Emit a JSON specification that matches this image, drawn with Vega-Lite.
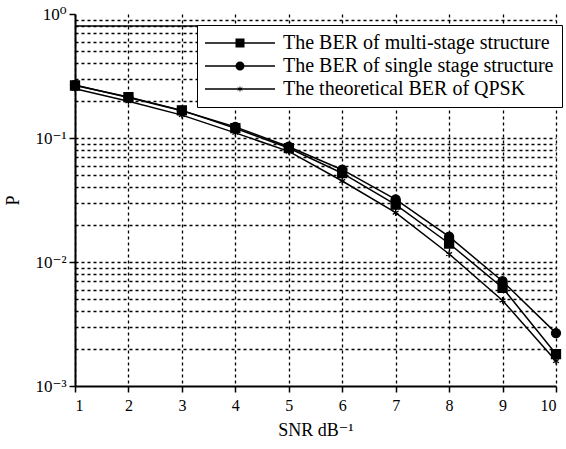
{
  "$schema": "https://vega.github.io/schema/vega-lite/v6.json",
  "width": 481,
  "height": 372,
  "autosize": "none",
  "padding": {"left": 75, "top": 14, "right": 10, "bottom": 63},
  "background": "white",
  "config": {
    "font": "Liberation Serif, Times New Roman, DejaVu Serif, serif",
    "view": {"stroke": null},
    "axis": {
      "domainColor": "black",
      "domainWidth": 2,
      "tickColor": "black",
      "tickWidth": 1.5,
      "tickSize": 6,
      "labelColor": "black",
      "titleColor": "black",
      "labelFont": "Liberation Serif, Times New Roman, DejaVu Serif, serif",
      "titleFont": "Liberation Serif, Times New Roman, DejaVu Serif, serif",
      "titleFontWeight": "normal",
      "gridColor": "black",
      "gridDash": [3, 3],
      "gridWidth": 1.3
    },
    "legend": {
      "labelFont": "Liberation Serif, Times New Roman, DejaVu Serif, serif"
    }
  },
  "datasets": {
    "ber": [
      {"snr": 1, "p": 0.265, "series": "The BER of multi-stage structure"},
      {"snr": 2, "p": 0.214, "series": "The BER of multi-stage structure"},
      {"snr": 3, "p": 0.167, "series": "The BER of multi-stage structure"},
      {"snr": 4, "p": 0.120, "series": "The BER of multi-stage structure"},
      {"snr": 5, "p": 0.083, "series": "The BER of multi-stage structure"},
      {"snr": 6, "p": 0.052, "series": "The BER of multi-stage structure"},
      {"snr": 7, "p": 0.029, "series": "The BER of multi-stage structure"},
      {"snr": 8, "p": 0.0141, "series": "The BER of multi-stage structure"},
      {"snr": 9, "p": 0.0062, "series": "The BER of multi-stage structure"},
      {"snr": 10, "p": 0.00181, "series": "The BER of multi-stage structure"},
      {"snr": 1, "p": 0.268, "series": "The BER of single stage structure"},
      {"snr": 2, "p": 0.212, "series": "The BER of single stage structure"},
      {"snr": 3, "p": 0.166, "series": "The BER of single stage structure"},
      {"snr": 4, "p": 0.123, "series": "The BER of single stage structure"},
      {"snr": 5, "p": 0.085, "series": "The BER of single stage structure"},
      {"snr": 6, "p": 0.0555, "series": "The BER of single stage structure"},
      {"snr": 7, "p": 0.032, "series": "The BER of single stage structure"},
      {"snr": 8, "p": 0.016, "series": "The BER of single stage structure"},
      {"snr": 9, "p": 0.0070, "series": "The BER of single stage structure"},
      {"snr": 10, "p": 0.00267, "series": "The BER of single stage structure"},
      {"snr": 1, "p": 0.250, "series": "The theoretical BER of QPSK"},
      {"snr": 2, "p": 0.198, "series": "The theoretical BER of QPSK"},
      {"snr": 3, "p": 0.153, "series": "The theoretical BER of QPSK"},
      {"snr": 4, "p": 0.110, "series": "The theoretical BER of QPSK"},
      {"snr": 5, "p": 0.078, "series": "The theoretical BER of QPSK"},
      {"snr": 6, "p": 0.045, "series": "The theoretical BER of QPSK"},
      {"snr": 7, "p": 0.025, "series": "The theoretical BER of QPSK"},
      {"snr": 8, "p": 0.0116, "series": "The theoretical BER of QPSK"},
      {"snr": 9, "p": 0.0049, "series": "The theoretical BER of QPSK"},
      {"snr": 10, "p": 0.00159, "series": "The theoretical BER of QPSK"}
    ],
    "frame": [{"p": 0.8}]
  },
  "resolve": {"scale": {"shape": "independent"}},
  "layer": [
    {
      "data": {"name": "frame"},
      "mark": {"type": "rule", "color": "black", "strokeWidth": 1.5},
      "encoding": {
        "y": {
          "field": "p",
          "type": "quantitative",
          "scale": {"type": "log", "domain": [0.001, 1], "nice": false},
          "axis": {
            "title": "P",
            "titleFontSize": 18,
            "titlePadding": 12,
            "values": [0.001, 0.002, 0.003, 0.004, 0.005, 0.006, 0.007, 0.008, 0.009, 0.01, 0.02, 0.03, 0.04, 0.05, 0.06, 0.07, 0.08, 0.09, 0.1, 0.2, 0.3, 0.4, 0.5, 0.6, 0.7, 0.8, 0.9, 1],
            "labelExpr": "datum.value==1?'10⁰':datum.value==0.1?'10⁻¹':datum.value==0.01?'10⁻²':datum.value==0.001?'10⁻³':''",
            "labelFontSize": 17,
            "labelPadding": 3,
            "grid": true,
            "gridOpacity": {"condition": {"test": "datum.value==1||datum.value==0.001", "value": 0}, "value": 1},
            "tickOpacity": {"condition": {"test": "datum.value==1||datum.value==0.1||datum.value==0.01||datum.value==0.001", "value": 1}, "value": 0}
          }
        }
      }
    },
    {
      "data": {"name": "ber"},
      "mark": {"type": "line", "color": "black", "strokeWidth": 1.5},
      "encoding": {
        "x": {
          "field": "snr",
          "type": "quantitative",
          "scale": {"domain": [1, 10], "nice": false},
          "axis": {
            "title": "SNR dB⁻¹",
            "titleFontSize": 18,
            "titlePadding": 8,
            "values": [1, 2, 3, 4, 5, 6, 7, 8, 9, 10],
            "format": "d",
            "labelFontSize": 16,
            "labelPadding": 5,
            "grid": true
          }
        },
        "y": {"field": "p", "type": "quantitative"},
        "detail": {"field": "series", "type": "nominal"}
      }
    },
    {
      "data": {"name": "ber"},
      "mark": {"type": "point", "filled": true, "color": "black", "stroke": "black", "strokeWidth": 1.3, "size": 81, "opacity": 1},
      "encoding": {
        "x": {"field": "snr", "type": "quantitative"},
        "y": {"field": "p", "type": "quantitative"},
        "shape": {
          "field": "series",
          "type": "nominal",
          "scale": {
            "domain": ["The BER of multi-stage structure", "The BER of single stage structure", "The theoretical BER of QPSK"],
            "range": ["square", "circle", "M0,-0.75V0.75M-0.65,-0.375L0.65,0.375M-0.65,0.375L0.65,-0.375"]
          },
          "legend": null
        }
      }
    },
    {
      "data": {"name": "ber"},
      "mark": {"type": "point", "filled": true, "color": "black", "size": 64, "opacity": 0},
      "encoding": {
        "x": {"field": "snr", "type": "quantitative"},
        "y": {"field": "p", "type": "quantitative"},
        "shape": {
          "field": "series",
          "type": "nominal",
          "scale": {
            "domain": ["The BER of multi-stage structure", "The BER of single stage structure", "The theoretical BER of QPSK"],
            "range": [
              "M-2.5,-0.19H15V0.19H-2.5ZM5.125,-1.125H7.375V1.125H5.125Z",
              "M-2.5,-0.19H15V0.19H-2.5ZM7.375,0A1.125,1.125,0,1,1,5.125,0A1.125,1.125,0,1,1,7.375,0Z",
              "M-2.5,-0.17H15V0.17H-2.5ZM6.25,-0.85L6.4,-0.26L6.986,-0.425L6.55,0L6.986,0.425L6.4,0.26L6.25,0.85L6.1,0.26L5.514,0.425L5.95,0L5.514,-0.425L6.1,-0.26Z"
            ]
          },
          "legend": {
            "title": null,
            "orient": "none",
            "legendX": 122,
            "legendY": 11,
            "strokeColor": "black",
            "fillColor": "white",
            "padding": 8,
            "rowPadding": 3,
            "labelFontSize": 20,
            "labelFont": "Liberation Serif, Times New Roman, DejaVu Serif, serif",
            "labelColor": "black",
            "labelLimit": 400,
            "labelOffset": 58,
            "symbolSize": 64,
            "symbolStrokeWidth": 0,
            "symbolFillColor": "black",
            "symbolOpacity": 1
          }
        }
      }
    }
  ]
}
